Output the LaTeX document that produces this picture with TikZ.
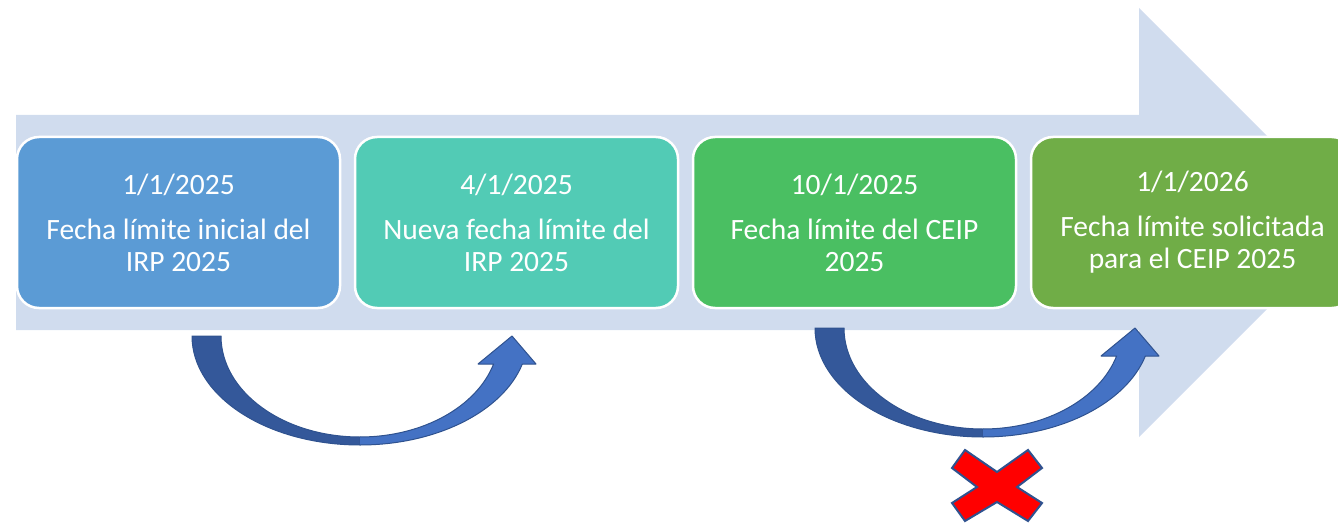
\documentclass[tikz,border=0pt]{standalone}
\usepackage{fontspec}
\setmainfont{Carlito}
\definecolor{bandblue}{HTML}{D0DCEE}
\definecolor{boxA}{HTML}{5B9BD5}
\definecolor{boxB}{HTML}{52CBB5}
\definecolor{boxC}{HTML}{4ABF62}
\definecolor{boxD}{HTML}{70AD47}
\definecolor{arrdark}{HTML}{34589A}
\definecolor{arrlight}{HTML}{4472C4}
\definecolor{arrline}{HTML}{2F528F}
\tikzset{
  datebox/.style={rounded corners=22pt, draw=white, line width=2.5pt,
    minimum width=323pt, minimum height=171pt, inner sep=0pt,
    text=white, align=center, font=\fontsize{29.5}{32}\selectfont},
  bandarrow/.style={fill=bandblue, draw=none},
  curvedark/.style={fill=arrdark, draw=arrline, line width=1pt, line join=round},
  curvelightfill/.style={fill=arrlight, draw=none},
  curveline/.style={draw=arrline, line width=1pt, line join=round},
  crossmark/.style={fill=red, draw=arrline, line width=2pt, line join=miter}
}
\begin{document}
\begin{tikzpicture}[x=1pt,y=1pt]
\useasboundingbox (0,0) rectangle (1338,523);
\clip (0,0) rectangle (1338,523);
% big band arrow
\fill[bandarrow] (16,408) -- (1139,408) -- (1139,515) -- (1353.5,300.5)
  -- (1139,86) -- (1139,193) -- (16,193) -- cycle;
% boxes
\node[datebox, fill=boxA] (b1) at (178.5,300.5) {1/1/2025\\[13pt]Fecha límite inicial del\\IRP 2025};
\node[datebox, fill=boxB] (b2) at (516.5,300.5) {4/1/2025\\[13pt]Nueva fecha límite del\\IRP 2025};
\node[datebox, fill=boxC] (b3) at (854.5,300.5) {10/1/2025\\[13pt]Fecha límite del CEIP\\2025};
\node[datebox, fill=boxD] (b4) at (1192.5,300.5) {1/1/2026\\[13pt]Fecha límite solicitada\\para el CEIP 2025};
% curved arrows
\foreach \dx/\dy in {0/0, 623/8}{
\begin{scope}[shift={(\dx,\dy)}]
  \path[curvedark] (192,187) arc[start angle=180, end angle=270, x radius=168, y radius=109]
    -- (360,86) arc[start angle=270, end angle=180, x radius=139, y radius=101] -- cycle;
  \path[curvelightfill] (360,78) arc[start angle=270, end angle=345.1, x radius=168, y radius=109]
    -- (536,159) -- (512,187) -- (478,159) -- (493.6,159)
    arc[start angle=343.9, end angle=270, x radius=139, y radius=101] -- cycle;
  \path[curveline] (360,78) arc[start angle=270, end angle=345.1, x radius=168, y radius=109]
    -- (536,159) -- (512,187) -- (478,159) -- (493.6,159)
    arc[start angle=343.9, end angle=270, x radius=139, y radius=101];
\end{scope}
}
% red cross
\path[crossmark] (952,55) -- (965,73) -- (997,51) -- (1028,73) -- (1042,55)
  -- (1017,36) -- (1042,20) -- (1028,2) -- (997,21) -- (965,2) -- (952,20)
  -- (977,36) -- cycle;
\end{tikzpicture}
\end{document}
